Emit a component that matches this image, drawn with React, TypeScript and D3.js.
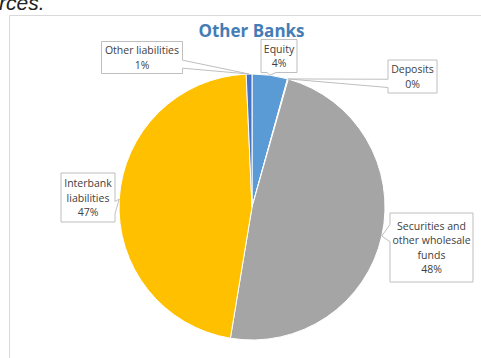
import React from "react";
import * as d3 from "d3";

const categories = ["Equity", "Deposits", "Securities and other wholesale funds", "Interbank liabilities", "Other liabilities"];
const values = [4.3, 0.1, 48.2, 46.7, 0.7];
const colors = ["#5B9BD5", "#ED7D31", "#A5A5A5", "#FFC000", "#4472C4"];
const labelLines = [["Equity"], ["Deposits"], ["Securities and", "other wholesale", "funds"], ["Interbank", "liabilities"], ["Other liabilities"]];
const title = "Other Banks";

const W = 481, H = 358;
const cx = 252, cy = 207, R = 133;
const boxes = [
  { x: 261, y: 39.5, w: 36, h: 33 },
  { x: 388, y: 60, w: 49, h: 33 },
  { x: 390, y: 213, w: 83, h: 69 },
  { x: 61, y: 173, w: 54, h: 49 },
  { x: 101.5, y: 41.5, w: 81, h: 32 },
];

function calloutPath(b: { x: number; y: number; w: number; h: number }, tx: number, ty: number) {
  const { x, y, w, h } = b;
  const dx = tx - (x + w / 2), dy = ty - (y + h / 2);
  const dq = (dx * h) / w;
  const vertical = Math.abs(dy) > Math.abs(dq);
  const x1 = x + (w * (dx > 0 ? 7 : 2)) / 12, x2 = x + (w * (dx > 0 ? 10 : 5)) / 12;
  const y1 = y + (h * (dy > 0 ? 7 : 2)) / 12, y2 = y + (h * (dy > 0 ? 10 : 5)) / 12;
  const p: string[] = [`M${x},${y}`];
  if (vertical && dy < 0) p.push(`L${x1},${y}`, `L${tx},${ty}`, `L${x2},${y}`);
  p.push(`L${x + w},${y}`);
  if (!vertical && dx > 0) p.push(`L${x + w},${y1}`, `L${tx},${ty}`, `L${x + w},${y2}`);
  p.push(`L${x + w},${y + h}`);
  if (vertical && dy > 0) p.push(`L${x2},${y + h}`, `L${tx},${ty}`, `L${x1},${y + h}`);
  p.push(`L${x},${y + h}`);
  if (!vertical && dx < 0) p.push(`L${x},${y2}`, `L${tx},${ty}`, `L${x},${y1}`);
  p.push("Z");
  return p.join(" ");
}

export default function App() {
  const total = d3.sum(values);
  const pie = d3.pie<number>().sort(null).value((d) => d)(values);
  const arc = d3.arc<d3.PieArcDatum<number>>().innerRadius(0).outerRadius(R);
  const fmt = (v: number) => `${Math.round((v / total) * 100 + 1e-9)}%`;
  const lh = 14.5;
  return (
    <svg width={W} height={H} style={{ position: "absolute", left: 0, top: 0 }} fontFamily="'Open Sans', sans-serif">
      <rect x={0} y={0} width={W} height={H} fill="white" />
      <text x={-1} y={10} fontSize={21} fontStyle="italic" fill="#222" fontFamily="'Liberation Sans', sans-serif">rces.</text>
      <path d={`M9.5,${H} L9.5,15.5 L${W},15.5`} fill="none" stroke="#D9D9D9" />
      <text x={251.5} y={36.5} textAnchor="middle" fontSize={17} fontWeight="bold" fill="#447DB5">{title}</text>
      <g transform={`translate(${cx},${cy})`}>
        {pie.map((d, i) => (
          <path key={i} d={arc(d) || ""} fill={colors[i]} stroke="white" strokeWidth={1} />
        ))}
      </g>
      {pie.map((d, i) => {
        const a = (d.startAngle + d.endAngle) / 2;
        const tx = cx + R * Math.sin(a), ty = cy - R * Math.cos(a);
        const b = boxes[i];
        const lines = [...labelLines[i], fmt(values[i])];
        const y0 = b.y + b.h / 2 - ((lines.length - 1) * lh) / 2 + 4;
        return (
          <g key={i}>
            <path d={calloutPath(b, tx, ty)} fill="white" stroke="#BFBFBF" strokeWidth={1} />
            {lines.map((l, j) => (
              <text key={j} x={b.x + b.w / 2} y={y0 + j * lh} textAnchor="middle" fontSize={10.5} fill="#404040">{l}</text>
            ))}
          </g>
        );
      })}
    </svg>
  );
}
